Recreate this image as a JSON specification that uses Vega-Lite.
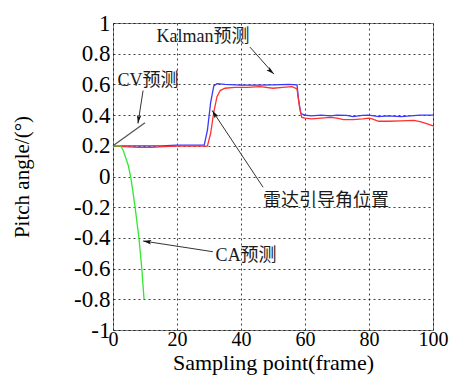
{
  "$schema": "https://vega.github.io/schema/vega-lite/v6.json",
  "width": 320,
  "height": 307,
  "autosize": "none",
  "padding": {"left": 113, "top": 23, "right": 23, "bottom": 46},
  "background": "white",
  "config": {
    "font": "Liberation Serif",
    "view": {"stroke": "#7f7f7f", "strokeWidth": 1},
    "axis": {
      "labelFont": "Liberation Serif",
      "titleFont": "Liberation Serif",
      "labelColor": "black",
      "titleColor": "black",
      "titleFontWeight": "normal",
      "domain": false,
      "ticks": false,
      "grid": true,
      "gridColor": "black",
      "gridDash": [2, 3],
      "gridOpacity": 0.75,
      "gridWidth": 1,
      "labelFlush": false,
      "labelOverlap": false
    }
  },
  "datasets": {
    "series": [
      {"x": 0, "y": 0.2, "s": "Kalman"}, {"x": 5, "y": 0.2, "s": "Kalman"}, {"x": 10, "y": 0.2, "s": "Kalman"}, {"x": 15, "y": 0.2, "s": "Kalman"}, {"x": 20, "y": 0.205, "s": "Kalman"}, {"x": 25, "y": 0.205, "s": "Kalman"}, {"x": 28.5, "y": 0.205, "s": "Kalman"}, {"x": 29.5, "y": 0.3, "s": "Kalman"}, {"x": 30.5, "y": 0.48, "s": "Kalman"}, {"x": 31.5, "y": 0.59, "s": "Kalman"}, {"x": 32.5, "y": 0.605, "s": "Kalman"}, {"x": 35, "y": 0.6, "s": "Kalman"}, {"x": 40, "y": 0.595, "s": "Kalman"}, {"x": 45, "y": 0.595, "s": "Kalman"}, {"x": 50, "y": 0.597, "s": "Kalman"}, {"x": 55, "y": 0.6, "s": "Kalman"}, {"x": 57.5, "y": 0.597, "s": "Kalman"}, {"x": 58, "y": 0.5, "s": "Kalman"}, {"x": 58.7, "y": 0.41, "s": "Kalman"}, {"x": 60, "y": 0.4, "s": "Kalman"}, {"x": 62, "y": 0.395, "s": "Kalman"}, {"x": 65, "y": 0.4, "s": "Kalman"}, {"x": 68, "y": 0.395, "s": "Kalman"}, {"x": 70, "y": 0.4, "s": "Kalman"}, {"x": 73, "y": 0.398, "s": "Kalman"}, {"x": 75, "y": 0.39, "s": "Kalman"}, {"x": 78, "y": 0.398, "s": "Kalman"}, {"x": 80, "y": 0.4, "s": "Kalman"}, {"x": 83, "y": 0.39, "s": "Kalman"}, {"x": 86, "y": 0.395, "s": "Kalman"}, {"x": 90, "y": 0.39, "s": "Kalman"}, {"x": 93, "y": 0.395, "s": "Kalman"}, {"x": 96, "y": 0.4, "s": "Kalman"}, {"x": 100, "y": 0.4, "s": "Kalman"},
      {"x": 0, "y": 0.2, "s": "Radar"}, {"x": 3, "y": 0.195, "s": "Radar"}, {"x": 8, "y": 0.19, "s": "Radar"}, {"x": 12, "y": 0.19, "s": "Radar"}, {"x": 16, "y": 0.195, "s": "Radar"}, {"x": 20, "y": 0.198, "s": "Radar"}, {"x": 25, "y": 0.198, "s": "Radar"}, {"x": 29.5, "y": 0.198, "s": "Radar"}, {"x": 30.5, "y": 0.28, "s": "Radar"}, {"x": 31.5, "y": 0.42, "s": "Radar"}, {"x": 32.5, "y": 0.52, "s": "Radar"}, {"x": 33.5, "y": 0.56, "s": "Radar"}, {"x": 35, "y": 0.575, "s": "Radar"}, {"x": 38, "y": 0.58, "s": "Radar"}, {"x": 42, "y": 0.58, "s": "Radar"}, {"x": 46, "y": 0.585, "s": "Radar"}, {"x": 50, "y": 0.575, "s": "Radar"}, {"x": 53, "y": 0.58, "s": "Radar"}, {"x": 56, "y": 0.585, "s": "Radar"}, {"x": 57.5, "y": 0.57, "s": "Radar"}, {"x": 58.3, "y": 0.45, "s": "Radar"}, {"x": 59, "y": 0.385, "s": "Radar"}, {"x": 60, "y": 0.38, "s": "Radar"}, {"x": 62, "y": 0.375, "s": "Radar"}, {"x": 65, "y": 0.38, "s": "Radar"}, {"x": 68, "y": 0.385, "s": "Radar"}, {"x": 70, "y": 0.38, "s": "Radar"}, {"x": 72, "y": 0.37, "s": "Radar"}, {"x": 75, "y": 0.37, "s": "Radar"}, {"x": 78, "y": 0.375, "s": "Radar"}, {"x": 80, "y": 0.38, "s": "Radar"}, {"x": 81, "y": 0.375, "s": "Radar"}, {"x": 83, "y": 0.36, "s": "Radar"}, {"x": 86, "y": 0.36, "s": "Radar"}, {"x": 90, "y": 0.362, "s": "Radar"}, {"x": 94, "y": 0.365, "s": "Radar"}, {"x": 96, "y": 0.358, "s": "Radar"}, {"x": 98, "y": 0.345, "s": "Radar"}, {"x": 100, "y": 0.33, "s": "Radar"},
      {"x": 0, "y": 0.2, "s": "CA"}, {"x": 2.4, "y": 0.2, "s": "CA"}, {"x": 3.2, "y": 0.17, "s": "CA"}, {"x": 4, "y": 0.12, "s": "CA"}, {"x": 4.8, "y": 0.07, "s": "CA"}, {"x": 5.5, "y": 0.0, "s": "CA"}, {"x": 6.1, "y": -0.08, "s": "CA"}, {"x": 6.9, "y": -0.2, "s": "CA"}, {"x": 8.1, "y": -0.4, "s": "CA"}, {"x": 9, "y": -0.6, "s": "CA"}, {"x": 9.7, "y": -0.8, "s": "CA"},
      {"x": 0, "y": 0.2, "s": "CV"}, {"x": 10, "y": 0.35, "s": "CV"}
    ],
    "arrows": [
      {"x": 42.8, "y": 0.843, "x2": 50.3, "y2": 0.667, "name": "Kalman"},
      {"x": 9.4, "y": 0.56, "x2": 7.8, "y2": 0.346, "name": "CV"},
      {"x": 46.9, "y": -0.07, "x2": 31, "y2": 0.43, "name": "Radar"},
      {"x": 31.2, "y": -0.49, "x2": 9.4, "y2": -0.42, "name": "CA"}
    ],
    "labels": [
      {"x": 28.1, "y": 0.91, "text": "Kalman预测"},
      {"x": 10.9, "y": 0.625, "text": "CV预测"},
      {"x": 66.6, "y": -0.16, "text": "雷达引导角位置"},
      {"x": 41.6, "y": -0.515, "text": "CA预测"}
    ]
  },
  "layer": [
    {
      "data": {"name": "series"},
      "mark": {"type": "line", "strokeWidth": 1.3},
      "encoding": {
        "x": {
          "field": "x", "type": "quantitative",
          "scale": {"domain": [0, 100], "nice": false},
          "axis": {
            "values": [0, 20, 40, 60, 80, 100],
            "tickCount": 6,
            "title": "Sampling point(frame)",
            "titleFont": "Liberation Serif",
            "titleFontSize": 22,
            "titleY": 39,
            "titleBaseline": "alphabetic",
            "labelFont": "Liberation Serif",
            "labelFontSize": 20,
            "labelPadding": -1
          }
        },
        "y": {
          "field": "y", "type": "quantitative",
          "scale": {"domain": [-1, 1], "nice": false},
          "axis": {
            "values": [-1, -0.8, -0.6, -0.4, -0.2, 0, 0.2, 0.4, 0.6, 0.8, 1],
            "tickCount": 11,
            "labelExpr": "'' + datum.value",
            "title": "Pitch angle/(°)",
            "titleFont": "Liberation Serif",
            "titleFontSize": 21,
            "titleX": -81,
            "labelFont": "Liberation Serif",
            "labelFontSize": 23,
            "labelPadding": 3
          }
        },
        "color": {
          "field": "s", "type": "nominal",
          "scale": {"domain": ["Kalman", "Radar", "CA", "CV"], "range": ["#3a3aff", "#ff3030", "#30e830", "#555555"]},
          "legend": null
        },
        "detail": {"field": "s"}
      }
    },
    {
      "data": {"name": "arrows"},
      "mark": {"type": "rule", "color": "#333333", "strokeWidth": 1},
      "encoding": {
        "x": {"field": "x", "type": "quantitative"},
        "y": {"field": "y", "type": "quantitative"},
        "x2": {"field": "x2"},
        "y2": {"field": "y2"}
      }
    },
    {
      "data": {"name": "arrows"},
      "transform": [{"filter": "datum.name === 'Kalman'"}],
      "mark": {"type": "point", "shape": "M0,0L-0.4,1.5L0,1.2L0.4,1.5Z", "filled": true, "color": "#111111", "size": 120, "angle": 132, "opacity": 1},
      "encoding": {
        "x": {"field": "x2", "type": "quantitative"},
        "y": {"field": "y2", "type": "quantitative"}
      }
    },
    {
      "data": {"name": "arrows"},
      "transform": [{"filter": "datum.name === 'CV'"}],
      "mark": {"type": "point", "shape": "M0,0L-0.4,1.5L0,1.2L0.4,1.5Z", "filled": true, "color": "#111111", "size": 120, "angle": 188, "opacity": 1},
      "encoding": {
        "x": {"field": "x2", "type": "quantitative"},
        "y": {"field": "y2", "type": "quantitative"}
      }
    },
    {
      "data": {"name": "arrows"},
      "transform": [{"filter": "datum.name === 'Radar'"}],
      "mark": {"type": "point", "shape": "M0,0L-0.4,1.5L0,1.2L0.4,1.5Z", "filled": true, "color": "#111111", "size": 120, "angle": -33, "opacity": 1},
      "encoding": {
        "x": {"field": "x2", "type": "quantitative"},
        "y": {"field": "y2", "type": "quantitative"}
      }
    },
    {
      "data": {"name": "arrows"},
      "transform": [{"filter": "datum.name === 'CA'"}],
      "mark": {"type": "point", "shape": "M0,0L-0.4,1.5L0,1.2L0.4,1.5Z", "filled": true, "color": "#111111", "size": 120, "angle": -81, "opacity": 1},
      "encoding": {
        "x": {"field": "x2", "type": "quantitative"},
        "y": {"field": "y2", "type": "quantitative"}
      }
    },
    {
      "data": {"name": "labels"},
      "mark": {"type": "text", "font": "Liberation Serif, Noto Sans CJK SC", "fontSize": 18, "color": "#1a1a1a", "align": "center", "baseline": "middle"},
      "encoding": {
        "x": {"field": "x", "type": "quantitative"},
        "y": {"field": "y", "type": "quantitative"},
        "text": {"field": "text"}
      }
    }
  ]
}
